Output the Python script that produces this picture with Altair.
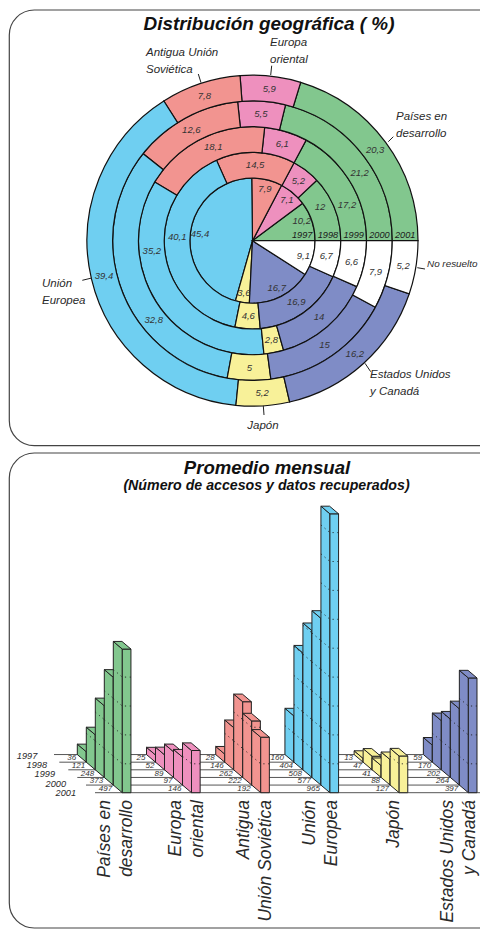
import altair as alt
import pandas as pd

# ---------- data ----------
YEARS = [1997, 1998, 1999, 2000, 2001]
REGIONS = ["Países en desarrollo", "Europa oriental", "Antigua Unión Soviética",
           "Unión Europea", "Japón", "Estados Unidos y Canadá", "No resuelto"]
COLORS = ["#82C78E", "#EE90BE", "#F29490", "#6FCFF1", "#F8F199", "#7F8CC6", "#FFFFFF"]

SHARE_DESARROLLO = [10.2, 12, 17.2, 21.2, 20.3]
SHARE_ORIENTAL = [7.1, 5.2, 6.1, 5.5, 5.9]
SHARE_SOVIETICA = [7.9, 14.5, 18.1, 12.6, 7.8]
SHARE_UE = [45.4, 40.1, 35.2, 32.8, 39.4]
SHARE_JAPON = [3.6, 4.6, 2.8, 5, 5.2]
SHARE_USA = [16.7, 16.9, 14, 15, 16.2]
SHARE_NR = [9.1, 6.7, 6.6, 7.9, 5.2]

COUNT_DESARROLLO = [36, 121, 248, 373, 497]
COUNT_ORIENTAL = [25, 52, 89, 97, 146]
COUNT_SOVIETICA = [28, 146, 262, 222, 192]
COUNT_UE = [160, 404, 508, 577, 965]
COUNT_JAPON = [13, 47, 41, 88, 127]
COUNT_USA = [59, 170, 202, 264, 397]

SHARES = [SHARE_DESARROLLO, SHARE_ORIENTAL, SHARE_SOVIETICA, SHARE_UE, SHARE_JAPON, SHARE_USA, SHARE_NR]
COUNTS = [COUNT_DESARROLLO, COUNT_ORIENTAL, COUNT_SOVIETICA, COUNT_UE, COUNT_JAPON, COUNT_USA]

# label placement tweaks along the ring, in percentage points: (region index, year) -> shift
LABEL_SHIFT = {(0, 1997): 1.0, (0, 1998): 1.3, (3, 1998): -2.5, (0, 1999): -2.8, (2, 1999): -1.0,
               (3, 1999): -7.4, (0, 2000): -1.6, (3, 2000): 5.1}

# ---------- layout ----------
W, H = 472, 921
FONT = "Liberation Sans"
INK = "#222222"
TXT = "#333333"
EPS_YEAR = 1994.57  # year at which the ring radius scale reaches zero

THETA_SCALE = alt.Scale(domain=[0, 100], range=[1.5708, 7.85398])
RADIUS_SCALE = alt.Scale(type="linear", domain=[EPS_YEAR, 2001], range=[0, 165.5], zero=False)
COLOR = alt.Color("region:N", scale=alt.Scale(domain=REGIONS, range=COLORS), legend=None)
CX, CY = alt.value(252.5 - 8), alt.value(240.7 - 8)

K = 0.289          # px per access
RISE = 26.4        # one row of depth, in accesses
BASE_Y = 784.7
Y_SCALE = alt.Scale(domain=[(BASE_Y - H) / K, BASE_Y / K], zero=False, nice=False)
X_SCALE = alt.Scale(domain=[0, W / 9], zero=False, nice=False)
X0, GROUP_STEP, BAR_W = 12.7, 7.69, 0.96


def X(f="x"):
    return alt.X(f"{f}:Q", scale=X_SCALE, axis=None, stack=False)


def Y(f="y"):
    return alt.Y(f"{f}:Q", scale=Y_SCALE, axis=None, stack=False)


ONE = alt.Data(values=[{"a": 1}])


def note(px, py, lines, align="left", size=11.5, weight="normal", lh=16.5, color="#2A2A2A", angle=0):
    return alt.Chart(ONE).mark_text(text=lines, align=align, baseline="middle", font=FONT, fontStyle="italic",
                                    fontSize=size, fontWeight=weight, lineHeight=lh, color=color,
                                    angle=angle).encode(x=alt.value(px - 8), y=alt.value(py - 8))


def leader(x1, y1, x2, y2):
    return alt.Chart(ONE).mark_rule(color=INK, strokeWidth=1).encode(
        x=alt.value(x1 - 8), y=alt.value(y1 - 8), x2=alt.value(x2 - 8), y2=alt.value(y2 - 8))


def box(top, bottom):
    return alt.Chart(ONE).mark_rect(filled=False, stroke="#444444", strokeWidth=1.2, cornerRadius=25,
                                    clip=True).encode(
        x=alt.value(1.3), x2=alt.value(497), y=alt.value(top - 8), y2=alt.value(bottom - 8))


layers = [box(10, 445.7), box(453, 928)]

# ---------- donut ----------
arcs, labels = [], []
for yi, yr in enumerate(YEARS):
    cum = 0.0
    for ri, reg in enumerate(REGIONS):
        v = SHARES[ri][yi]
        mid = cum + v / 2 + LABEL_SHIFT.get((ri, yr), 0)
        arcs.append(dict(region=reg, t1=100 - cum - v, t2=100 - cum, r1=EPS_YEAR if yi == 0 else yr - 1, r2=yr))
        labels.append(dict(t=100 - mid, r=1996.63 if yi == 0 else yr - 0.5, txt=f"{v:g}".replace(".", ",")))
        cum += v
arcs, labels = pd.DataFrame(arcs), pd.DataFrame(labels)

layers.append(alt.Chart(arcs).mark_arc(stroke="#111111", strokeWidth=1.2).encode(
    x=CX, y=CY,
    theta=alt.Theta("t1:Q", scale=THETA_SCALE, stack=False), theta2="t2:Q",
    radius=alt.Radius("r2:Q", scale=RADIUS_SCALE), radius2="r1:Q", color=COLOR))
layers.append(alt.Chart(labels).mark_text(font=FONT, fontStyle="italic", fontSize=9.5, color=TXT).encode(
    x=CX, y=CY,
    theta=alt.Theta("t:Q", scale=THETA_SCALE, stack=False),
    radius=alt.Radius("r:Q", scale=RADIUS_SCALE), text="txt:N"))
ring_years = pd.DataFrame({"t": [100] * 5, "r": [y - 0.5 for y in YEARS], "txt": [str(y) for y in YEARS]})
layers.append(alt.Chart(ring_years).mark_text(font=FONT, fontStyle="italic", fontSize=9.2, color="#1A1A1A",
                                              dy=-6).encode(
    x=CX, y=CY,
    theta=alt.Theta("t:Q", scale=THETA_SCALE, stack=False),
    radius=alt.Radius("r:Q", scale=RADIUS_SCALE), text="txt:N"))

# ---------- 3-D bars: row lines first ----------
us_front = X0 + GROUP_STEP * 5
ROW_STARTS = [54, 59.3, 68.3, 77.3, 86, 95]
rows = pd.DataFrame([dict(x=(ROW_STARTS[j] - 8) / 9,
                          x2=(W / 9 if j == 5 else us_front + (j - 4) - 1),
                          y=(5 - j) * RISE) for j in range(6)])
layers.append(alt.Chart(rows).mark_rule(color="#555555", strokeWidth=1).encode(x=X(), x2="x2:Q", y=Y()))

val_rows = []
for yi in range(5):
    d = 4 - yi
    side, front, top, dots = [], [], [], []
    for g, vals in enumerate(COUNTS):
        reg, v = REGIONS[g], vals[yi]
        xf = X0 + GROUP_STEP * g - d
        side += [dict(region=reg, x=xf - 1, y=(d + 1) * RISE + v, y2=(d + 1) * RISE),
                 dict(region=reg, x=xf, y=d * RISE + v, y2=d * RISE)]
        front.append(dict(region=reg, x=xf, x2=xf + BAR_W, y=d * RISE + v, y2=d * RISE))
        top += [dict(region=reg, x=xf - 1, x2=xf - 1 + BAR_W, y=(d + 1) * RISE + v),
                dict(region=reg, x=xf, x2=xf + BAR_W, y=d * RISE + v)]
        for lvl in range(100, v, 100):
            key = f"{g}-{lvl}"
            dots += [dict(key=key, x=xf - 1, y=(d + 1) * RISE + lvl),
                     dict(key=key, x=xf, y=d * RISE + lvl),
                     dict(key=key, x=xf + BAR_W, y=d * RISE + lvl)]
        val_rows.append(dict(x=xf - 1.12, y=(d + 0.5) * RISE, txt=str(v)))
    layers.append(alt.Chart(pd.DataFrame(side)).mark_area(orient="vertical", stroke=INK, strokeWidth=1).encode(
        x=X(), y=Y(), y2="y2:Q", color=COLOR))
    layers.append(alt.Chart(pd.DataFrame(front)).mark_rect(stroke=INK, strokeWidth=1).encode(
        x=X(), x2="x2:Q", y=Y(), y2="y2:Q", color=COLOR))
    layers.append(alt.Chart(pd.DataFrame(top)).mark_area(orient="horizontal", stroke=INK, strokeWidth=1).encode(
        x=X(), x2="x2:Q", y=Y(), color=COLOR))
    if dots:
        layers.append(alt.Chart(pd.DataFrame(dots)).mark_line(color=INK, strokeWidth=0.9,
                                                              strokeDash=[1.2, 3.6]).encode(
            x=X(), y=Y(), detail="key:N"))

layers.append(alt.Chart(pd.DataFrame(val_rows)).mark_text(font=FONT, fontStyle="italic", fontSize=8, color=TXT,
                                                          align="right", baseline="middle").encode(
    x=X(), y=Y(), text="txt:N"))

# ---------- titles and notes (multi-line text is anchored on its first line) ----------
layers += [
    note(269, 24, ["Distribución geográfica ( %)"], "center", 18.9, "bold", color="#111111"),
    note(267, 468, ["Promedio mensual"], "center", 18.6, "bold", color="#111111"),
    note(266.5, 486, ["(Número de accesos y datos recuperados)"], "center", 14.2, "bold", color="#111111"),
    note(146, 53, ["Antigua Unión", "Soviética"]),
    note(270, 43, ["Europa", "oriental"]),
    note(396, 117, ["Países en", "desarrollo"]),
    note(427, 264, ["No resuelto"], size=9.9),
    note(42, 284, ["Unión", "Europea"]),
    note(370, 375, ["Estados Unidos", "y Canadá"]),
    note(263, 425.5, ["Japón"], "center"),
    leader(198.3, 74, 201, 82.7), leader(271.7, 65.7, 270.7, 75), leader(393.3, 136.7, 388.3, 141.7),
    leader(417.3, 267.7, 425, 269), leader(91.7, 278, 82.3, 280.3), leader(365, 363.3, 370.7, 371.7),
    leader(263.3, 405.7, 264, 415),
]
for yr, xr, yy in zip(YEARS, [37.3, 47, 55, 66, 76], [755.7, 764.7, 774, 783.7, 793]):
    layers.append(note(xr, yy, [str(yr)], "right", 9.2))
for xc, lines in zip([104.5, 175.5, 243.5, 310, 394, 448],
                     [["Países en", "desarrollo"], ["Europa", "oriental"], ["Antigua", "Unión Soviética"],
                      ["Unión", "Europea"], ["Japón"], ["Estados Unidos", "y Canadá"]]):
    layers.append(note(xc, 800, lines, "right", 17.5, lh=22, angle=270))

chart = alt.layer(*layers).properties(
    width=W, height=H, padding=0, autosize=alt.AutoSizeParams(type="none")
).configure_view(strokeWidth=0)

chart.save("out.html", embed_options={"renderer": "svg", "actions": False})
